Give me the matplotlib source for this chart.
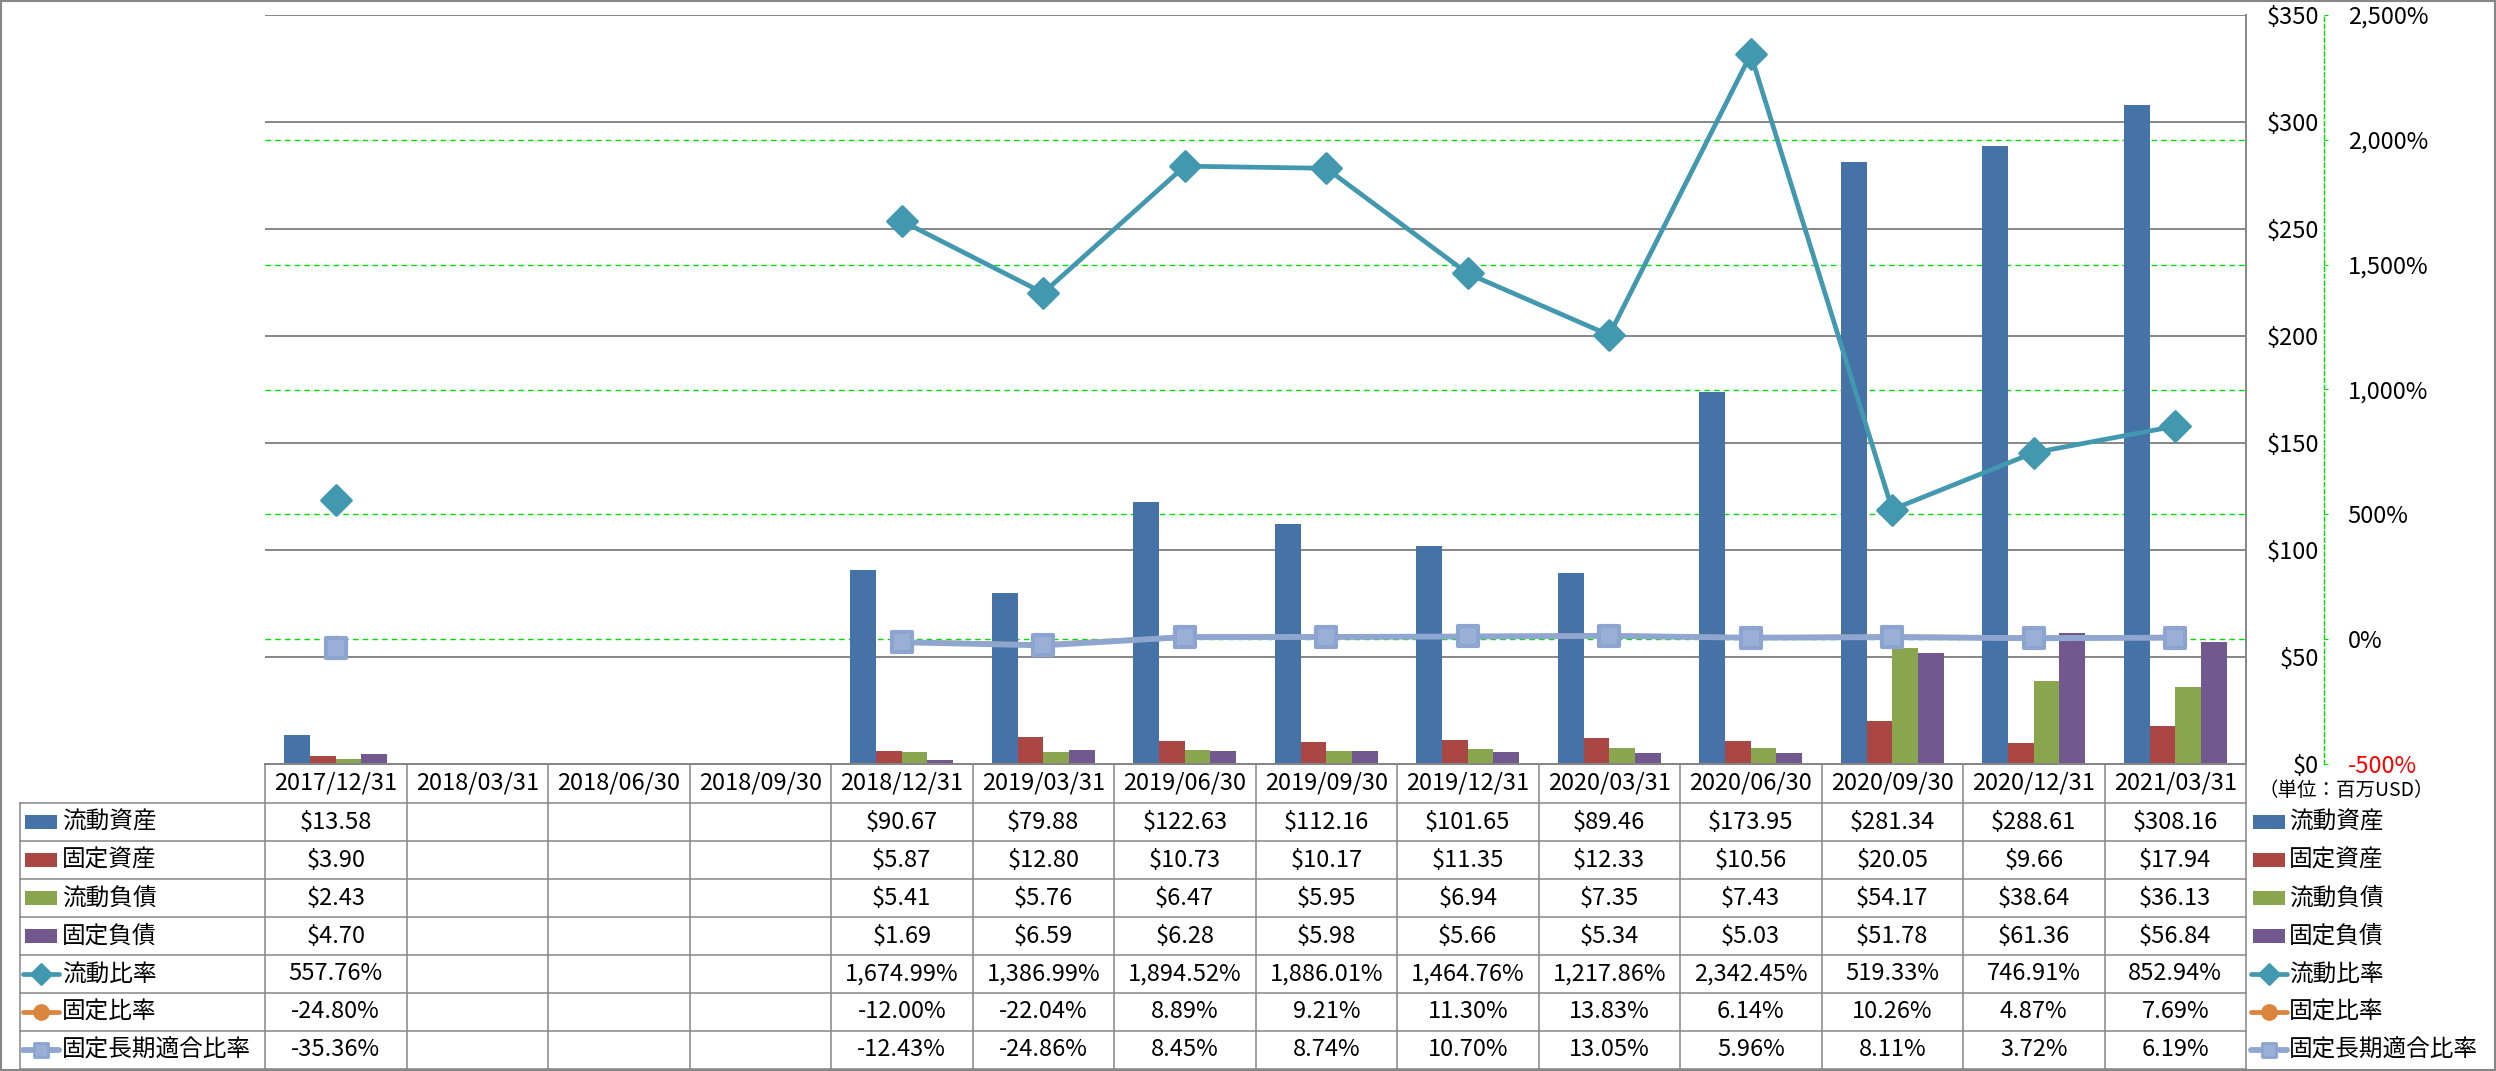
import numpy as np
import matplotlib

matplotlib.use("Agg")
import matplotlib.pyplot as plt
from matplotlib.patches import Rectangle
from matplotlib.lines import Line2D
from matplotlib.markers import MarkerStyle
from matplotlib.ticker import FixedLocator, FuncFormatter
from matplotlib.transforms import blended_transform_factory

plt.rcParams["font.family"] = ["Noto Sans CJK JP", "DejaVu Sans"]

nan = np.nan

dates = [
    "2017/12/31", "2018/03/31", "2018/06/30", "2018/09/30", "2018/12/31",
    "2019/03/31", "2019/06/30", "2019/09/30", "2019/12/31", "2020/03/31",
    "2020/06/30", "2020/09/30", "2020/12/31", "2021/03/31",
]

# bars (百万USD)
current_assets = [13.58, nan, nan, nan, 90.67, 79.88, 122.63, 112.16, 101.65, 89.46, 173.95, 281.34, 288.61, 308.16]
fixed_assets = [3.90, nan, nan, nan, 5.87, 12.80, 10.73, 10.17, 11.35, 12.33, 10.56, 20.05, 9.66, 17.94]
current_liab = [2.43, nan, nan, nan, 5.41, 5.76, 6.47, 5.95, 6.94, 7.35, 7.43, 54.17, 38.64, 36.13]
fixed_liab = [4.70, nan, nan, nan, 1.69, 6.59, 6.28, 5.98, 5.66, 5.34, 5.03, 51.78, 61.36, 56.84]

# ratios (%)
current_ratio = [557.76, nan, nan, nan, 1674.99, 1386.99, 1894.52, 1886.01, 1464.76, 1217.86, 2342.45, 519.33, 746.91, 852.94]
fixed_ratio = [-24.80, nan, nan, nan, -12.00, -22.04, 8.89, 9.21, 11.30, 13.83, 6.14, 10.26, 4.87, 7.69]
fixed_lt_ratio = [-35.36, nan, nan, nan, -12.43, -24.86, 8.45, 8.74, 10.70, 13.05, 5.96, 8.11, 3.72, 6.19]

bar_names = ["流動資産", "固定資産", "流動負債", "固定負債"]
bar_colors = ["#4572A7", "#AA4643", "#89A54E", "#71588F"]
line_names = ["流動比率", "固定比率", "固定長期適合比率"]

W, H, DPI = 2496, 1071, 100
GRAY = "#868686"
FS = 17

fig = plt.figure(figsize=(W / DPI, H / DPI), dpi=DPI)

# plot area in pixels
PL, PR, PT, PB = 265, 2246, 15, 764
ax = fig.add_axes([PL / W, 1 - PB / H, (PR - PL) / W, (PB - PT) / H])
ax2 = ax.twinx()

n = len(dates)
x = np.arange(n)
bw = 1 / 5.5
bar_series = [current_assets, fixed_assets, current_liab, fixed_liab]
for k, (vals, c) in enumerate(zip(bar_series, bar_colors)):
    ax.bar(x + (k - 1.5) * bw, np.array(vals), width=bw, color=c, zorder=2)

ax.set_xlim(-0.5, n - 0.5)
ax.set_ylim(0, 350)
ax.set_xticks([])
ax.yaxis.set_major_locator(FixedLocator(np.arange(0, 351, 50)))
ax.yaxis.set_major_formatter(FuncFormatter(lambda v, p: f"${v:,.0f}"))
ax.yaxis.tick_right()
ax.tick_params(axis="y", length=0, pad=52.6, labelsize=FS)
for lbl in ax.get_yticklabels():
    lbl.set_ha("right")
ax.yaxis.grid(True, color=GRAY, lw=1.4)
ax.set_axisbelow(True)
for s in ["left", "top"]:
    ax.spines[s].set_visible(False)
ax.spines["right"].set_color(GRAY)
ax.spines["bottom"].set_color(GRAY)
ax.spines["right"].set_linewidth(1.4)
ax.spines["bottom"].set_linewidth(1.4)

# secondary axis
ax2.set_ylim(-500, 2500)
sec_ticks = np.arange(-500, 2501, 500)
ax2.yaxis.set_major_locator(FixedLocator(sec_ticks))
ax2.yaxis.set_major_formatter(FuncFormatter(lambda v, p: f"{v:,.0f}%"))
for s in ["left", "top", "bottom"]:
    ax2.spines[s].set_visible(False)
ax2.spines["right"].set_position(("axes", (2324 - PL) / (PR - PL)))
ax2.spines["right"].set_color("#00E000")
ax2.spines["right"].set_linestyle((0, (3, 2)))
ax2.spines["right"].set_linewidth(1.0)
ax2.tick_params(axis="y", length=3, color="#00E000", pad=14, labelsize=FS)
ax2.get_yticklabels()[0].set_color("red")

# green dashed gridlines for the secondary axis, drawn behind the bars
tr = blended_transform_factory(ax.transAxes, ax2.transData)
for v in sec_ticks[1:-1]:
    ax.plot([0, 1], [v, v], transform=tr, color="#00E000", lw=1.0,
            ls=(0, (4, 3)), zorder=1, clip_on=False)

diamond = MarkerStyle("D", joinstyle="round")
square = MarkerStyle("s", joinstyle="round")
circle = MarkerStyle("o")

line_styles = [
    dict(color="#4198AF", lw=3.4, marker=diamond, ms=15.5, mfc="#4198AF", mec="#4198AF", mew=2),
    dict(color="#DB843D", lw=3.4, marker=circle, ms=13, mfc="#DB843D", mec="#DB843D", mew=1),
    dict(color="#8FA7D0", lw=4.2, marker=square, ms=14, mfc="#9AAFD6", mec="#8CA4CF", mew=3),
]
key_ms = [10, 11, 10.5]
for vals, st in zip([current_ratio, fixed_ratio, fixed_lt_ratio], line_styles):
    ax2.plot(x, np.array(vals), zorder=3, solid_joinstyle="round",
             solid_capstyle="round", **st)

# ---- data table and legends (pixel overlay) ----
tab = fig.add_axes([0, 0, 1, 1])
tab.set_xlim(0, W)
tab.set_ylim(H, 0)
tab.axis("off")
tab.patch.set_visible(False)

TL = 20
row_h = 38
header_bot = PB + 39
col_w = (PR - PL) / n
row_tops = [header_bot + k * row_h for k in range(8)]
bottom = row_tops[-1]

lk = dict(color=GRAY, lw=1.1)
tab.plot([PL, PR], [PB, PB], **lk)
for yy in row_tops:
    tab.plot([TL, PR], [yy, yy], **lk)
tab.plot([TL, TL], [header_bot, bottom], **lk)
for i in range(n + 1):
    xx = PL + i * col_w
    tab.plot([xx, xx], [PB, bottom], **lk)

for i, d in enumerate(dates):
    tab.text(PL + (i + 0.5) * col_w, (PB + header_bot) / 2, d,
             ha="center", va="center", fontsize=FS)

rows = [
    (current_assets, "$"), (fixed_assets, "$"), (current_liab, "$"), (fixed_liab, "$"),
    (current_ratio, "%"), (fixed_ratio, "%"), (fixed_lt_ratio, "%"),
]
names = bar_names + line_names


def draw_key(k, x0, yc):
    if k < 4:
        tab.add_patch(Rectangle((x0 + 2, yc - 7), 32, 14, color=bar_colors[k], lw=0))
    else:
        st = dict(line_styles[k - 4])
        st["ms"] = key_ms[k - 4]
        st["mew"] = min(st["mew"], 2)
        tab.add_line(Line2D([x0, x0 + 36], [yc, yc], solid_capstyle="round",
                            color=st["color"], lw=st["lw"]))
        tab.plot([x0 + 18], [yc], ls="none",
                 **{kk: v for kk, v in st.items() if kk not in ("lw", "color")})


for k, ((vals, kind), name) in enumerate(zip(rows, names)):
    yc = row_tops[k] + row_h / 2
    draw_key(k, TL + 3, yc)
    tab.text(TL + 42, yc, name, ha="left", va="center", fontsize=FS)
    for i, v in enumerate(vals):
        if np.isnan(v):
            continue
        s = f"${v:,.2f}" if kind == "$" else f"{v:,.2f}%"
        tab.text(PL + (i + 0.5) * col_w, yc, s, ha="center", va="center", fontsize=FS)
    # right legend
    draw_key(k, 2251, yc)
    tab.text(2289, yc, name, ha="left", va="center", fontsize=FS)

tab.text(2258, 791, "（単位：百万USD）", ha="left", va="center", fontsize=14)

tab.add_patch(Rectangle((1, 1), W - 2, H - 2, fill=False, edgecolor=GRAY, lw=1.5))

fig.savefig("out.png", dpi=DPI)
